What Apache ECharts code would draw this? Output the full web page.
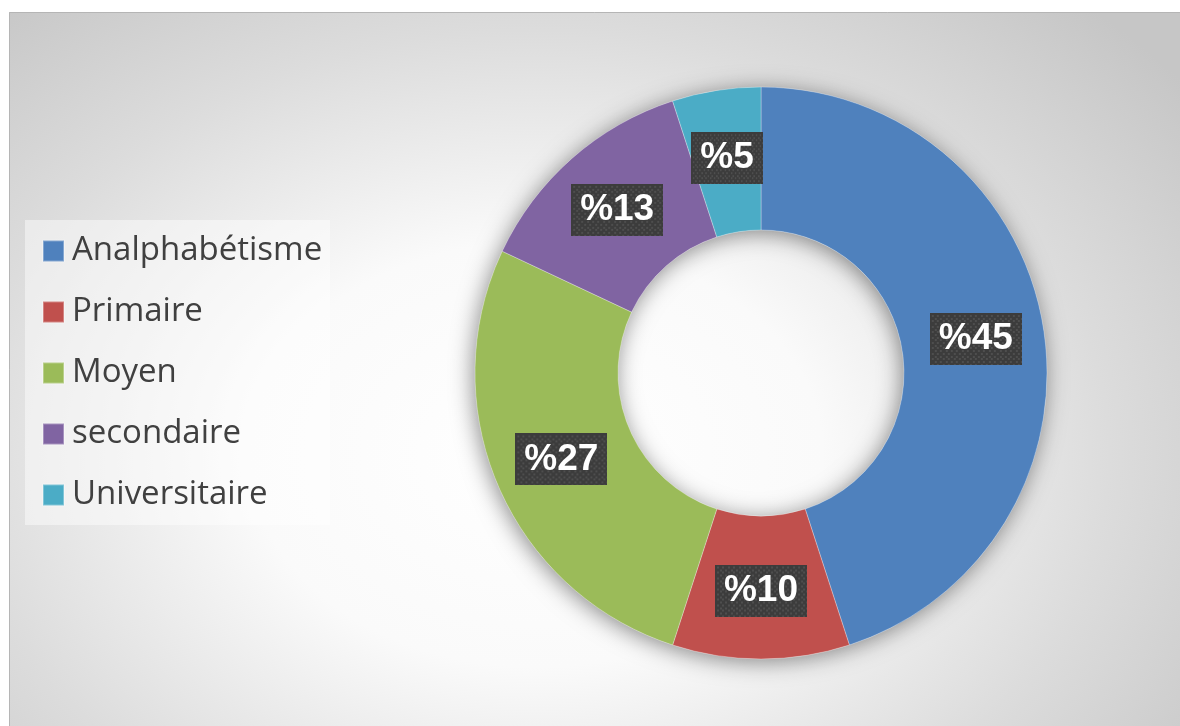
<!DOCTYPE html>
<html>
<head>
<meta charset="utf-8">
<script src="https://cdn.jsdelivr.net/npm/echarts@6/dist/echarts.min.js"></script>
<style>
  html, body { margin: 0; padding: 0; background: #ffffff; }
  #chart { width: 1180px; height: 726px; }
</style>
</head>
<body>
<div id="chart"></div>
<script>
// Education levels and their shares (%)
const categories = ['Analphabétisme', 'Primaire', 'Moyen', 'secondaire', 'Universitaire'];
const shares = [45, 10, 27, 13, 5];
const colors = ['#4f81bd', '#c0504d', '#9bbb59', '#8064a2', '#4bacc6'];

// Dark dotted fill used behind the percentage labels
function dottedTile(w, h) {
  const c = document.createElement('canvas');
  c.width = w; c.height = h;
  const g = c.getContext('2d');
  g.fillStyle = '#3c3c3c';
  g.fillRect(0, 0, w, h);
  g.fillStyle = '#4e4e4e';
  const step = 5.4;
  for (let row = 0, y = 2; y < h; row++, y += step / 2) {
    const off = (row % 2) ? step / 2 : 0;
    for (let x = 2 + off; x < w; x += step) {
      g.fillRect(Math.round(x), Math.round(y), 2, 2);
    }
  }
  return c;
}
const labelTile = dottedTile(92, 52);

const chart = echarts.init(document.getElementById('chart'), null, { renderer: 'canvas' });

const center = [761, 373];
const radius = [143, 286];
const stretch = 1.35;

const option = {
  animation: false,
  graphic: [
    {
      type: 'rect',
      z: -10,
      silent: true,
      x: 9, y: 12,
      scaleX: stretch,
      shape: { x: 0, y: 0, width: 1171 / stretch, height: 714 },
      style: {
        fill: {
          type: 'radial', x: 0.45, y: 0.62, r: 0.85,
          colorStops: [
            { offset: 0, color: '#ffffff' },
            { offset: 0.35, color: '#fafafa' },
            { offset: 0.7, color: '#dcdcdc' },
            { offset: 1, color: '#c6c6c6' }
          ]
        }
      }
    },
    {
      type: 'polyline',
      z: -9,
      silent: true,
      shape: { points: [[9.5, 726], [9.5, 12.5], [1180, 12.5]] },
      style: { stroke: '#b5b5b5', lineWidth: 1, fill: null }
    },
    {
      type: 'rect',
      z: -5,
      silent: true,
      shape: { x: 25, y: 220, width: 305, height: 305 },
      style: { fill: 'rgba(255,255,255,0.45)' }
    }
  ],
  legend: {
    orient: 'vertical',
    left: 42,
    top: 231,
    padding: 0,
    itemWidth: 21,
    itemHeight: 21,
    itemGap: 21,
    icon: 'rect',
    data: categories,
    textStyle: {
      fontFamily: 'Open Sans',
      fontSize: 33,
      color: '#404040',
      lineHeight: 40,
      padding: [0, 0, 0, 3]
    }
  },
  series: [
    {
      // soft halo under the ring
      type: 'pie',
      silent: true,
      center: center,
      radius: radius,
      label: { show: false },
      labelLine: { show: false },
      legendHoverLink: false,
      z: 1,
      data: [{ value: 1, name: '_halo' }],
      itemStyle: {
        color: '#d8d8d8',
        shadowBlur: 22,
        shadowOffsetX: -2,
        shadowOffsetY: 3,
        shadowColor: 'rgba(0,0,0,0.45)'
      }
    },
    {
      type: 'pie',
      center: center,
      radius: radius,
      startAngle: 90,
      clockwise: true,
      z: 2,
      data: categories.map((c, i) => ({ name: c, value: shares[i], itemStyle: { color: colors[i] } })),
      itemStyle: { borderColor: 'rgba(255,255,255,0.3)', borderWidth: 1 },
      label: {
        show: true,
        position: 'inside',
        formatter: (p) => '%' + p.value,
        fontFamily: 'Liberation Sans',
        fontWeight: 'bold',
        fontSize: 37,
        color: '#ffffff',
        lineHeight: 39,
        backgroundColor: { image: labelTile },
        padding: [7, 9, 6, 9],
        shadowColor: 'rgba(0,0,0,0.45)',
        shadowBlur: 6,
        shadowOffsetX: 4,
        shadowOffsetY: 4
      },
      labelLine: { show: false }
    }
  ]
};

chart.setOption(option);
</script>
</body>
</html>
